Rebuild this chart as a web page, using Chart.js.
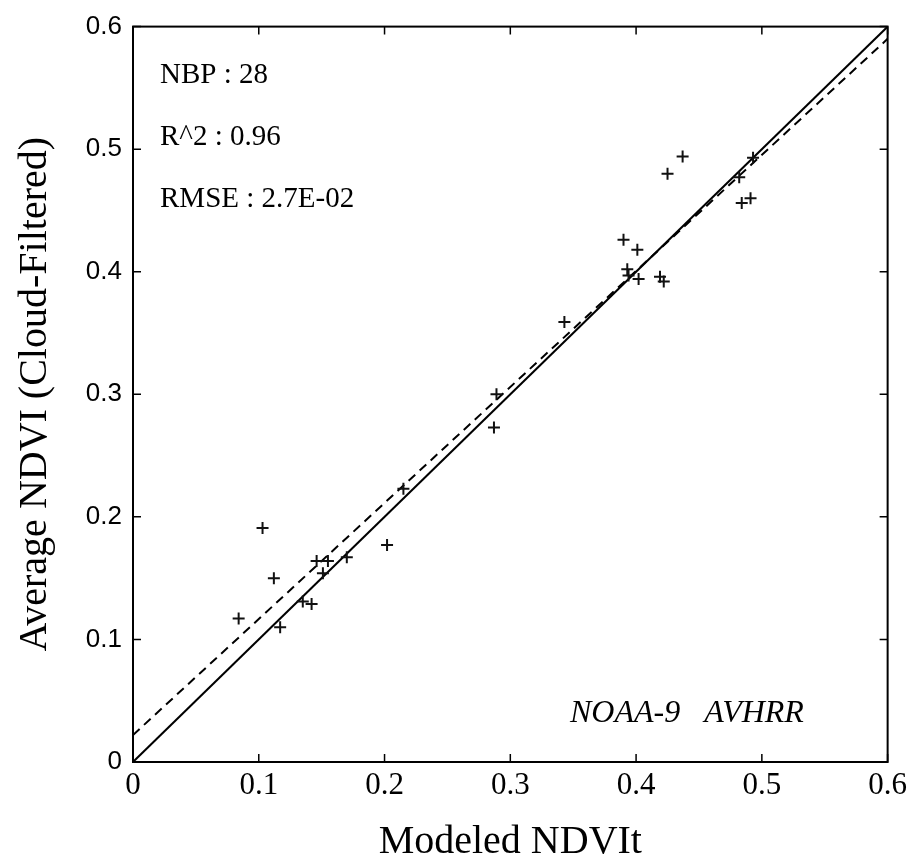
<!DOCTYPE html>
<html>
<head>
<meta charset="utf-8">
<script src="https://cdn.jsdelivr.net/npm/chart.js@4.4.1/dist/chart.umd.min.js"></script>
<style>
  html, body { margin: 0; padding: 0; background: #fff; }
  #wrap { width: 912px; height: 863px; }
</style>
</head>
<body>
<div id="wrap"><canvas id="c" width="912" height="863"></canvas></div>
<script>
// observed points (modeled NDVIt vs cloud-filtered average NDVI)
const modeledNdvi = [
  0.084, 0.103, 0.112, 0.117, 0.135, 0.142, 0.146, 0.155, 0.151, 0.170,
  0.202, 0.215, 0.289, 0.287, 0.343, 0.437, 0.425, 0.493, 0.482, 0.484,
  0.491, 0.390, 0.401, 0.393, 0.394, 0.402, 0.419, 0.422
];
const averageNdvi = [
  0.117, 0.191, 0.150, 0.110, 0.131, 0.129, 0.164, 0.164, 0.154, 0.167,
  0.177, 0.223, 0.300, 0.273, 0.359, 0.494, 0.480, 0.493, 0.477, 0.456,
  0.460, 0.426, 0.418, 0.402, 0.397, 0.394, 0.396, 0.392
];
// 1:1 line and regression line
const oneToOneX = [0, 0.6];
const oneToOneY = [0, 0.6];
const fitX = [0, 0.6];
const fitY = [0.022, 0.590];

const statLines = ["NBP : 28", "R^2 : 0.96", "RMSE : 2.7E-02"];
const sensorLabel = "NOAA-9   AVHRR";

const toXY = (xs, ys) => xs.map((v, i) => ({ x: v, y: ys[i] }));
const fmt = v => String(Math.round(v * 10) / 10);

// box, inward ticks and the text notes
const framePlugin = {
  id: "frame",
  afterDraw(chart) {
    const { ctx, chartArea: a, scales } = chart;
    const t = 8;
    ctx.save();
    ctx.strokeStyle = "#000";
    ctx.lineWidth = 2;
    ctx.strokeRect(a.left, a.top, a.right - a.left, a.bottom - a.top);
    ctx.lineWidth = 1.5;
    ctx.beginPath();
    scales.x.ticks.forEach(tk => {
      const px = scales.x.getPixelForValue(tk.value);
      ctx.moveTo(px, a.bottom); ctx.lineTo(px, a.bottom - t);
      ctx.moveTo(px, a.top); ctx.lineTo(px, a.top + t);
    });
    scales.y.ticks.forEach(tk => {
      const py = scales.y.getPixelForValue(tk.value);
      ctx.moveTo(a.left, py); ctx.lineTo(a.left + t, py);
      ctx.moveTo(a.right, py); ctx.lineTo(a.right - t, py);
    });
    ctx.stroke();

    ctx.fillStyle = "#000";
    ctx.textBaseline = "alphabetic";
    ctx.textAlign = "left";
    ctx.font = '29px "Liberation Serif"';
    statLines.forEach((s, i) => ctx.fillText(s, a.left + 27, a.top + 56 + i * 62));
    ctx.font = 'italic 32px "Liberation Serif"';
    ctx.fillText(sensorLabel, a.left + 437, a.bottom - 40);
    ctx.restore();
  }
};

new Chart(document.getElementById("c"), {
  type: "scatter",
  data: {
    datasets: [
      {
        data: toXY(modeledNdvi, averageNdvi),
        pointStyle: "cross",
        pointRadius: 6,
        pointBorderWidth: 2,
        borderColor: "#111",
        backgroundColor: "#111",
        order: 0
      },
      {
        type: "line",
        data: toXY(oneToOneX, oneToOneY),
        borderColor: "#000",
        borderWidth: 2,
        pointRadius: 0,
        fill: false,
        order: 1
      },
      {
        type: "line",
        data: toXY(fitX, fitY),
        borderColor: "#000",
        borderWidth: 2,
        borderDash: [9, 6],
        pointRadius: 0,
        fill: false,
        order: 2
      }
    ]
  },
  options: {
    responsive: false,
    animation: false,
    devicePixelRatio: 1,
    layout: { padding: { top: 21, right: 23, left: 0, bottom: 0 } },
    plugins: { legend: { display: false }, tooltip: { enabled: false } },
    scales: {
      x: {
        type: "linear",
        position: "bottom",
        min: 0,
        max: 0.6,
        grid: { display: false, drawTicks: false },
        border: { display: false },
        ticks: {
          stepSize: 0.1,
          padding: 5,
          color: "#000",
          font: { family: "Liberation Serif", size: 31 },
          callback: v => fmt(v)
        },
        title: {
          display: true,
          text: "Modeled NDVIt",
          color: "#000",
          font: { family: "Liberation Serif", size: 40, lineHeight: 1 },
          padding: { top: 0, bottom: 1 }
        },
        afterFit: s => { s.height = 101; }
      },
      y: {
        type: "linear",
        position: "left",
        min: 0,
        max: 0.6,
        grid: { display: false, drawTicks: false },
        border: { display: false },
        ticks: {
          stepSize: 0.1,
          padding: 11,
          color: "#000",
          font: { family: "Liberation Sans", size: 26 },
          callback: v => fmt(v)
        },
        title: {
          display: true,
          text: "Average NDVI (Cloud-Filtered)",
          color: "#000",
          font: { family: "Liberation Serif", size: 40, lineHeight: 1 },
          padding: { top: 15, bottom: 0 }
        },
        afterFit: s => { s.width = 133; }
      }
    }
  },
  plugins: [framePlugin]
});
</script>
</body>
</html>
